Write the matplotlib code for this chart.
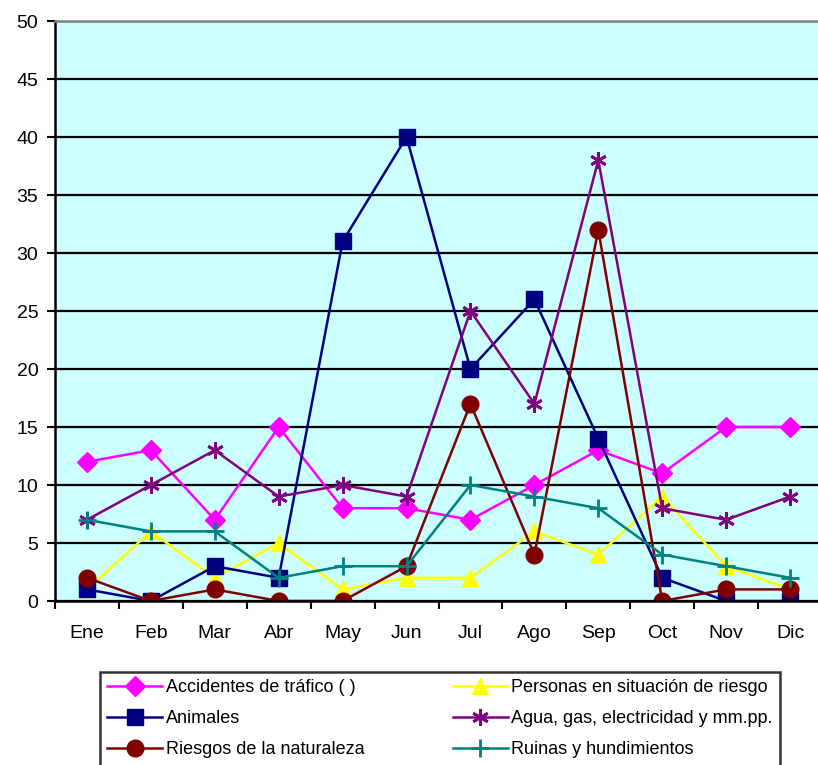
import matplotlib
matplotlib.use('Agg')
import matplotlib.pyplot as plt
import numpy as np

plt.rcParams['font.family'] = ['Liberation Sans', 'DejaVu Sans']

# Data
meses = ['Ene', 'Feb', 'Mar', 'Abr', 'May', 'Jun', 'Jul', 'Ago', 'Sep', 'Oct', 'Nov', 'Dic']
accidentes = [12, 13, 7, 15, 8, 8, 7, 10, 13, 11, 15, 15]
personas = [1, 6, 2, 5, 1, 2, 2, 6, 4, 9, 3, 1]
animales = [1, 0, 3, 2, 31, 40, 20, 26, 14, 2, 0, 0]
agua = [7, 10, 13, 9, 10, 9, 25, 17, 38, 8, 7, 9]
riesgos = [2, 0, 1, 0, 0, 3, 17, 4, 32, 0, 1, 1]
ruinas = [7, 6, 6, 2, 3, 3, 10, 9, 8, 4, 3, 2]

fig = plt.figure(figsize=(8.18, 7.65), dpi=100)
ax = fig.add_axes([55 / 818, 1 - 601 / 765, 767 / 818, 580 / 765])
ax.set_facecolor('#CCFFFF')

x = np.arange(len(meses))
lw = 1.8
h1, = ax.plot(x, accidentes, color='#FF00FF', marker='D', markersize=10, lw=lw, label='Accidentes de tráfico ( )')
h4, = ax.plot(x, personas, color='#FFFF00', marker='^', markersize=12, lw=lw, label='Personas en situación de riesgo')
h2, = ax.plot(x, animales, color='#000080', marker='s', markersize=12, lw=lw, label='Animales')
h5, = ax.plot(x, agua, color='#800080', marker=(6, 2, 0), markersize=12, mew=2, lw=lw, label='Agua, gas, electricidad y mm.pp.')
h3, = ax.plot(x, riesgos, color='#800000', marker='o', markersize=12, lw=lw, label='Riesgos de la naturaleza')
h6, = ax.plot(x, ruinas, color='#008080', marker='+', markersize=13, mew=2, lw=lw, label='Ruinas y hundimientos')

ax.set_xlim(-0.5, 11.5)
ax.set_ylim(0, 50)
ax.set_yticks(range(0, 51, 5))
ax.yaxis.grid(True, color='black', lw=1.6)
ax.set_axisbelow(True)
ax.set_xticks(x)
ax.set_xticklabels(meses)
ax.set_xticks(np.arange(-0.5, 12, 1), minor=True)
ax.tick_params(axis='x', which='major', length=0, labelsize=14, pad=17)
ax.tick_params(axis='x', which='minor', length=6, width=1.5, direction='out')
ax.tick_params(axis='y', length=6, width=1.5, direction='out', labelsize=14, pad=6)
for s in ax.spines.values():
    s.set_linewidth(1.8)
    s.set_color('black')
ax.spines['top'].set_color('#808080')

leg_top = 1 - 672 / 765
leg = fig.legend(handles=[h1, h2, h3, h4, h5, h6], ncol=2, loc='upper left',
                 bbox_to_anchor=(100 / 818, leg_top - 0.01, 680 / 818, 0.01), mode='expand',
                 fontsize=13, frameon=True, fancybox=False, edgecolor='black',
                 handlelength=3.05, handletextpad=0.2, borderaxespad=0,
                 labelspacing=0.78, borderpad=0.4)
leg.get_frame().set_linewidth(1.8)

fig.savefig('out.png', dpi=100)
